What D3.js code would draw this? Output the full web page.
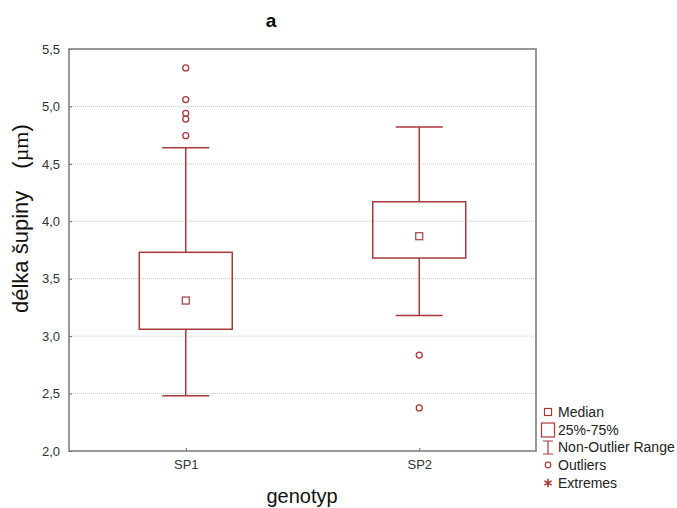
<!DOCTYPE html>
<html>
<head>
<meta charset="utf-8">
<script src="https://cdn.jsdelivr.net/npm/d3@7"></script>
<style>
    body { margin: 0; background: #fff; }
    text { font-family: "Liberation Sans", Arial, sans-serif; }
</style>
</head>
<body>
<div id="chart"></div>
<script>
// box plot data
var categories = ["SP1", "SP2"];
var medians    = [3.31, 3.87];
var q1         = [3.06, 3.68];
var q3         = [3.73, 4.17];
var whiskLow   = [2.48, 3.18];
var whiskHigh  = [4.64, 4.82];
var outliers   = [[5.335, 5.06, 4.94, 4.89, 4.745], [2.835, 2.375]];
var yTicks     = [2.0, 2.5, 3.0, 3.5, 4.0, 4.5, 5.0, 5.5];
var legendItems = ["Median", "25%-75%", "Non-Outlier Range", "Outliers", "Extremes"];

var width = 677, height = 508;
var margin = {left: 69, right: 141, top: 49, bottom: 57};
var red = "#a8393b";

var svg = d3.select("#chart").append("svg")
    .attr("width", width)
    .attr("height", height);

var x = d3.scalePoint()
    .domain(categories)
    .range([margin.left, width - margin.right])
    .padding(0.5);

var y = d3.scaleLinear()
    .domain([2.0, 5.5])
    .range([height - margin.bottom, margin.top]);

var fmt = function(d) { return d3.format(".1f")(d).replace(".", ","); };

// grid lines
svg.append("g")
    .selectAll("line")
    .data(yTicks.slice(1, -1))
    .enter()
    .append("line")
    .attr("x1", margin.left)
    .attr("x2", width - margin.right)
    .attr("y1", function(d) { return y(d); })
    .attr("y2", function(d) { return y(d); })
    .attr("stroke", "#c8c8c8")
    .attr("stroke-width", 1)
    .attr("stroke-dasharray", "1,1");

// axes
var yAxis = svg.append("g")
    .attr("transform", "translate(" + margin.left + ",0)")
    .call(d3.axisLeft(y).tickValues(yTicks).tickFormat(fmt).tickSize(-3).tickPadding(9));
var xAxis = svg.append("g")
    .attr("transform", "translate(0," + (height - margin.bottom) + ")")
    .call(d3.axisBottom(x).tickSize(-3).tickPadding(9));

[yAxis, xAxis].forEach(function(g) {
    g.select(".domain").remove();
    g.selectAll(".tick line").attr("stroke", "#666");
    g.selectAll(".tick text")
        .attr("font-size", "13px")
        .attr("fill", "#333")
        .style("font-family", "'Liberation Sans', Arial, sans-serif");
});

// frame
svg.append("rect")
    .attr("x", margin.left)
    .attr("y", margin.top)
    .attr("width", width - margin.left - margin.right)
    .attr("height", height - margin.top - margin.bottom)
    .attr("fill", "none")
    .attr("stroke", "#777")
    .attr("stroke-width", 1.5);

// boxes
var boxHalf = 46.5, capHalf = 23.5;
var boxes = svg.append("g")
    .selectAll("g")
    .data(categories)
    .enter()
    .append("g");

boxes.append("line")
    .attr("x1", function(d) { return x(d); })
    .attr("x2", function(d) { return x(d); })
    .attr("y1", function(d, i) { return y(whiskHigh[i]); })
    .attr("y2", function(d, i) { return y(q3[i]); })
    .attr("stroke", red).attr("stroke-width", 1.5);
boxes.append("line")
    .attr("x1", function(d) { return x(d); })
    .attr("x2", function(d) { return x(d); })
    .attr("y1", function(d, i) { return y(q1[i]); })
    .attr("y2", function(d, i) { return y(whiskLow[i]); })
    .attr("stroke", red).attr("stroke-width", 1.5);
boxes.append("line")
    .attr("x1", function(d) { return x(d) - capHalf; })
    .attr("x2", function(d) { return x(d) + capHalf; })
    .attr("y1", function(d, i) { return y(whiskHigh[i]); })
    .attr("y2", function(d, i) { return y(whiskHigh[i]); })
    .attr("stroke", red).attr("stroke-width", 1.5);
boxes.append("line")
    .attr("x1", function(d) { return x(d) - capHalf; })
    .attr("x2", function(d) { return x(d) + capHalf; })
    .attr("y1", function(d, i) { return y(whiskLow[i]); })
    .attr("y2", function(d, i) { return y(whiskLow[i]); })
    .attr("stroke", red).attr("stroke-width", 1.5);
boxes.append("rect")
    .attr("x", function(d) { return x(d) - boxHalf; })
    .attr("y", function(d, i) { return y(q3[i]); })
    .attr("width", boxHalf * 2)
    .attr("height", function(d, i) { return y(q1[i]) - y(q3[i]); })
    .attr("fill", "none")
    .attr("stroke", red).attr("stroke-width", 1.5);
boxes.append("rect")
    .attr("x", function(d) { return x(d) - 3.5; })
    .attr("y", function(d, i) { return y(medians[i]) - 3.5; })
    .attr("width", 7)
    .attr("height", 7)
    .attr("fill", "none")
    .attr("stroke", red).attr("stroke-width", 1.2);

// outliers
var outData = [];
categories.forEach(function(c, i) {
    outliers[i].forEach(function(v) { outData.push([c, v]); });
});
svg.append("g")
    .selectAll("circle")
    .data(outData)
    .enter()
    .append("circle")
    .attr("cx", function(d) { return x(d[0]); })
    .attr("cy", function(d) { return y(d[1]); })
    .attr("r", 3)
    .attr("fill", "none")
    .attr("stroke", red)
    .attr("stroke-width", 1.3);

// title and axis labels
svg.append("text")
    .attr("x", 271).attr("y", 27)
    .attr("text-anchor", "middle")
    .attr("font-size", "19px")
    .attr("font-weight", "bold")
    .text("a");

svg.append("text")
    .attr("x", 302).attr("y", 503)
    .attr("text-anchor", "middle")
    .attr("font-size", "20px")
    .attr("fill", "#111")
    .text("genotyp");

var ylab = svg.append("text")
    .attr("transform", "translate(28,313) rotate(-90)")
    .attr("text-anchor", "start")
    .attr("font-size", "22px")
    .attr("fill", "#111");
ylab.append("tspan").text("délka šupiny");
ylab.append("tspan").attr("dx", 22).text("(");
ylab.append("tspan").style("font-family", "'Liberation Serif', serif").text("µm");
ylab.append("tspan").text(")");

// legend
var lx = 548, ly = [412, 430, 447, 465, 483];
var legend = svg.append("g");
legend.selectAll("text")
    .data(legendItems)
    .enter()
    .append("text")
    .attr("x", 558)
    .attr("y", function(d, i) { return ly[i] + 5; })
    .attr("font-size", "14px")
    .attr("fill", "#222")
    .text(function(d) { return d; });

legend.append("rect")
    .attr("x", lx - 3.5).attr("y", ly[0] - 3.5)
    .attr("width", 7).attr("height", 7)
    .attr("fill", "none").attr("stroke", red).attr("stroke-width", 1.2);
legend.append("rect")
    .attr("x", lx - 6.5).attr("y", ly[1] - 7)
    .attr("width", 13).attr("height", 14)
    .attr("fill", "none").attr("stroke", red).attr("stroke-width", 1.2);
legend.append("path")
    .attr("d", "M" + (lx - 5) + "," + (ly[2] - 6) + "h10M" + lx + "," + (ly[2] - 6) +
        "v13M" + (lx - 5) + "," + (ly[2] + 7) + "h10")
    .attr("fill", "none").attr("stroke", red).attr("stroke-width", 1.2);
legend.append("circle")
    .attr("cx", lx).attr("cy", ly[3]).attr("r", 2.8)
    .attr("fill", "none").attr("stroke", red).attr("stroke-width", 1.2);
legend.append("path")
    .attr("d", d3.symbol().type(d3.symbolAsterisk).size(50)())
    .attr("transform", "translate(" + lx + "," + ly[4] + ")")
    .attr("fill", "none").attr("stroke", red).attr("stroke-width", 1.6);
</script>
</body>
</html>
